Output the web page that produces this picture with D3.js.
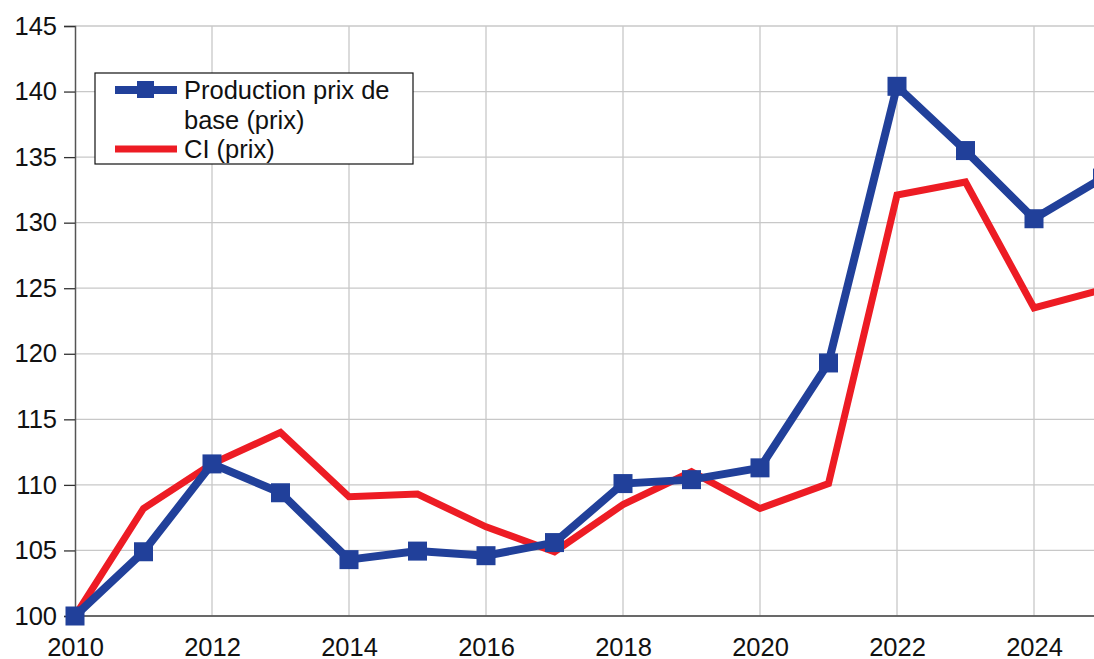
<!DOCTYPE html>
<html>
<head>
<meta charset="utf-8">
<script src="https://cdn.jsdelivr.net/npm/d3@7"></script>
<style>
  body { margin: 0; background: #fff; }
  svg { display: block; font-family: 'Liberation Sans', Arial, sans-serif; }
</style>
</head>
<body>
<svg id="chart" width="1094" height="659"></svg>
<script>
// --- data
const YEARS = [2010, 2011, 2012, 2013, 2014, 2015, 2016, 2017, 2018, 2019, 2020, 2021, 2022, 2023, 2024, 2025];
const PRODUCTION = [100, 104.9, 111.6, 109.4, 104.3, 104.95, 104.6, 105.6, 110.1, 110.4, 111.3, 119.3, 140.4, 135.5, 130.3, 133.4];
const CI = [100, 108.2, 111.6, 114.0, 109.1, 109.3, 106.8, 104.9, 108.5, 111.0, 108.2, 110.1, 132.1, 133.1, 123.5, 124.9];
const X_TICKS = [2010, 2012, 2014, 2016, 2018, 2020, 2022, 2024];
const Y_TICKS = [100, 105, 110, 115, 120, 125, 130, 135, 140, 145];
const SERIES_NAMES = ['Production prix de|base (prix)', 'CI (prix)'];

const BLUE = '#21409a';
const RED = '#ed1c24';
const FONT = 25.5;

const svg = d3.select('#chart');
const width = 1094;
const margin = { left: 75, top: 26, bottom: 616 };

const x = d3.scaleLinear().domain([2010, 2024]).range([margin.left, 1034]);
const y = d3.scaleLinear().domain([100, 145]).range([margin.bottom, margin.top]);

svg.append('defs').append('clipPath')
    .attr('id', 'plotClip')
    .append('rect')
    .attr('x', margin.left - 15)
    .attr('y', 0)
    .attr('width', width - margin.left + 15)
    .attr('height', 640);

// --- grid
const grid = svg.append('g').attr('class', 'grid');
grid.selectAll('.hgrid')
    .data(Y_TICKS)
    .enter()
    .append('line')
    .attr('x1', margin.left)
    .attr('x2', width)
    .attr('y1', d => y(d))
    .attr('y2', d => y(d))
    .attr('stroke', '#c8c8c8')
    .attr('stroke-width', 1.3);

grid.selectAll('.vgrid')
    .data(X_TICKS.slice(1))
    .enter()
    .append('line')
    .attr('x1', d => x(d))
    .attr('x2', d => x(d))
    .attr('y1', margin.top)
    .attr('y2', margin.bottom)
    .attr('stroke', '#c8c8c8')
    .attr('stroke-width', 1.3);

// --- axes
const yAxis = svg.append('g')
    .attr('transform', `translate(${margin.left},0)`)
    .call(d3.axisLeft(y).tickValues(Y_TICKS).tickSize(11).tickPadding(7));
yAxis.select('.domain').attr('stroke', '#555').attr('stroke-width', 1.5);
yAxis.selectAll('.tick line').attr('stroke', '#333').attr('stroke-width', 1.3);
yAxis.selectAll('text').attr('font-size', FONT).attr('fill', '#111')
    .attr('font-family', "'Liberation Sans', Arial, sans-serif");

const xAxis = svg.append('g')
    .attr('transform', `translate(0,${margin.bottom})`)
    .call(d3.axisBottom(x).tickValues(X_TICKS).tickFormat(d3.format('d')).tickSize(0).tickPadding(0));
xAxis.select('.domain').remove();
xAxis.selectAll('text')
    .attr('dy', null)
    .attr('y', 40)
    .attr('font-size', FONT).attr('fill', '#111')
    .attr('font-family', "'Liberation Sans', Arial, sans-serif");
svg.append('line')
    .attr('x1', margin.left).attr('x2', width)
    .attr('y1', margin.bottom).attr('y2', margin.bottom)
    .attr('stroke', '#444').attr('stroke-width', 1.5);

// --- lines
const lineFn = d3.line()
    .x((d, i) => x(YEARS[i]))
    .y(d => y(d));

const plot = svg.append('g').attr('clip-path', 'url(#plotClip)');

plot.append('path')
    .datum(CI)
    .attr('fill', 'none')
    .attr('stroke', RED)
    .attr('stroke-width', 7)
    .attr('stroke-linejoin', 'miter')
    .attr('d', lineFn);

plot.append('path')
    .datum(PRODUCTION)
    .attr('fill', 'none')
    .attr('stroke', BLUE)
    .attr('stroke-width', 8)
    .attr('stroke-linejoin', 'miter')
    .attr('d', lineFn);

const sq = 19;
plot.selectAll('.marker')
    .data(PRODUCTION)
    .enter()
    .append('rect')
    .attr('class', 'marker')
    .attr('x', (d, i) => x(YEARS[i]) - sq / 2)
    .attr('y', d => y(d) - sq / 2)
    .attr('width', sq)
    .attr('height', sq)
    .attr('fill', BLUE);

// --- legend
const legend = svg.append('g').attr('transform', 'translate(95,73)');
legend.append('rect')
    .attr('width', 318)
    .attr('height', 91)
    .attr('fill', '#fff')
    .attr('stroke', '#111')
    .attr('stroke-width', 1.2);

legend.append('line')
    .attr('x1', 20).attr('x2', 82).attr('y1', 17).attr('y2', 17)
    .attr('stroke', BLUE).attr('stroke-width', 8);
legend.append('rect')
    .attr('x', 42).attr('y', 8).attr('width', 17).attr('height', 17)
    .attr('fill', BLUE);
legend.append('line')
    .attr('x1', 20).attr('x2', 82).attr('y1', 76).attr('y2', 76)
    .attr('stroke', RED).attr('stroke-width', 7);

const lines = SERIES_NAMES[0].split('|').concat([SERIES_NAMES[1]]);
legend.selectAll('.legendText')
    .data(lines)
    .enter()
    .append('text')
    .attr('x', 89)
    .attr('y', (d, i) => 26 + i * 29.5)
    .attr('font-size', FONT)
    .attr('fill', '#111')
    .text(d => d);
</script>
</body>
</html>
